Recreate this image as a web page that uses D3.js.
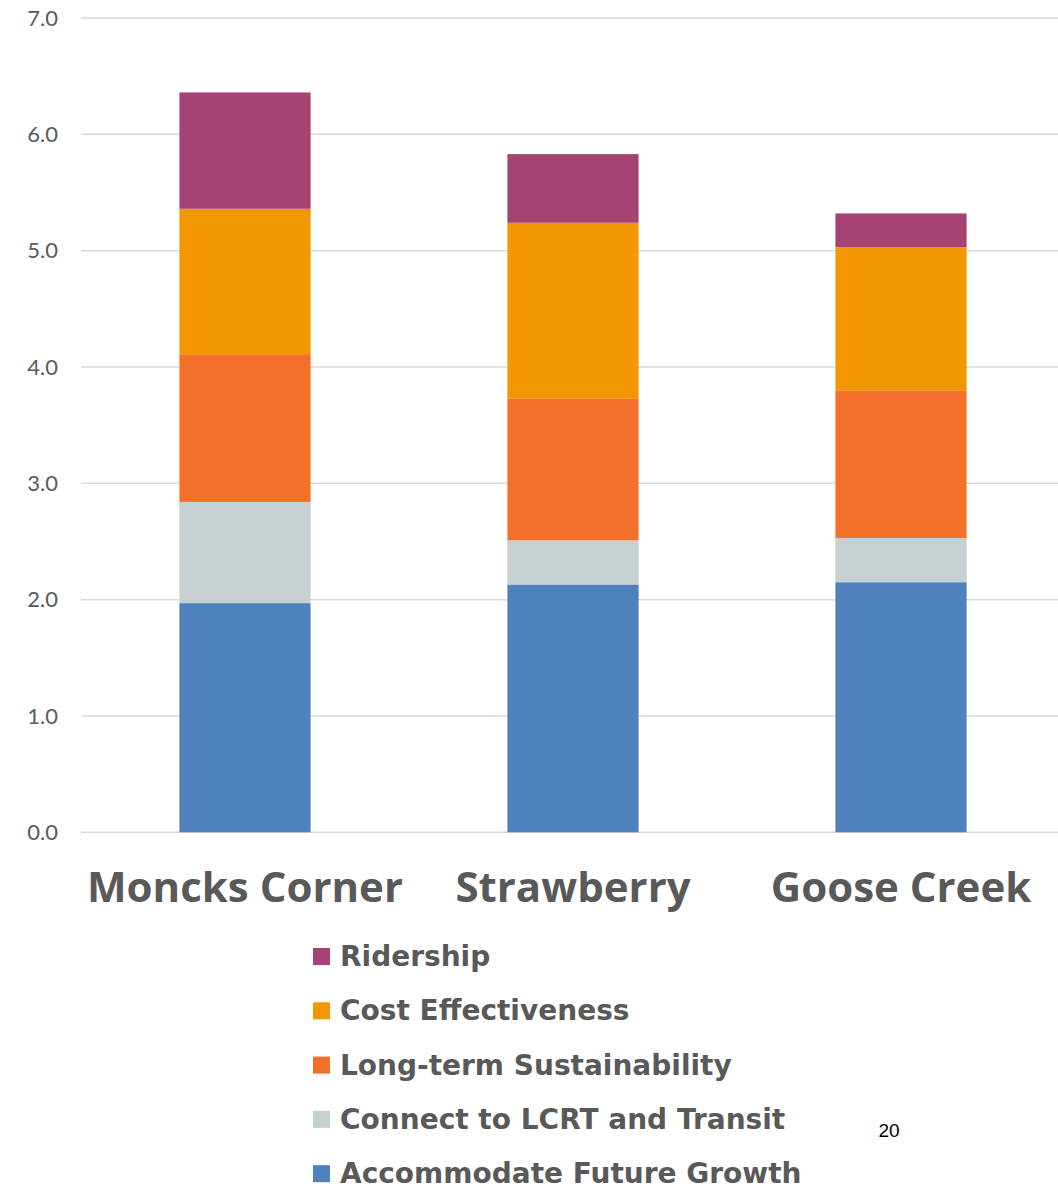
<!DOCTYPE html>
<html>
<head>
<meta charset="utf-8">
<script src="https://cdn.jsdelivr.net/npm/d3@7"></script>
<style>
  html, body { margin: 0; padding: 0; background: #ffffff; }
  svg { display: block; }
</style>
</head>
<body>
<script>
// Scoring of the three candidate sites, stacked by criterion
const sites = ["Moncks Corner", "Strawberry", "Goose Creek"];
const criteria = [
  "Accommodate Future Growth",
  "Connect to LCRT and Transit",
  "Long-term Sustainability",
  "Cost Effectiveness",
  "Ridership"
];
const accommodateGrowth = [1.97, 2.13, 2.15];
const connectTransit    = [0.87, 0.38, 0.38];
const longTermSustain   = [1.27, 1.22, 1.27];
const costEffectiveness = [1.25, 1.51, 1.23];
const ridership         = [1.00, 0.59, 0.29];
const yTicks = [0, 1, 2, 3, 4, 5, 6, 7];
const colors = ["#4F81BD", "#C5D0D2", "#F2702A", "#F29700", "#A54474"];
const pageNumber = "20";

const W = 1058, H = 1186;
const svg = d3.select("body").append("svg").attr("width", W).attr("height", H);

const rows = sites.map((s, i) => {
  const r = { site: s };
  [accommodateGrowth, connectTransit, longTermSustain, costEffectiveness, ridership]
    .forEach((arr, k) => { r[criteria[k]] = arr[i]; });
  return r;
});
const stacked = d3.stack().keys(criteria)(rows);

const x = d3.scaleBand().domain(sites).range([81, 1065]).paddingInner(0.6).paddingOuter(0.3);
const y = d3.scaleLinear().domain([0, 7]).range([832.3, 18]);

// gridlines
svg.append("g").selectAll("line").data(yTicks).join("line")
  .attr("x1", 81).attr("x2", W)
  .attr("y1", d => y(d)).attr("y2", d => y(d))
  .attr("stroke", "#d9d9d9").attr("stroke-width", 1.5);

// y-axis labels
const yAxis = svg.append("g").attr("transform", "translate(58,0)")
  .call(d3.axisLeft(y).tickValues(yTicks).tickFormat(d3.format(".1f")).tickSize(0).tickPadding(0));
yAxis.select(".domain").remove();
yAxis.selectAll("text")
  .attr("fill", "#595959")
  .style("font-family", "Lato, 'Open Sans', sans-serif")
  .style("font-size", "22px");

// stacked bars
svg.append("g").selectAll("g").data(stacked).join("g")
  .attr("fill", (d, i) => colors[i])
  .selectAll("rect").data(d => d).join("rect")
  .attr("x", d => x(d.data.site))
  .attr("width", x.bandwidth())
  .attr("y", d => y(d[1]))
  .attr("height", d => y(d[0]) - y(d[1]));

// category labels
svg.append("g").selectAll("text").data(sites).join("text")
  .attr("x", d => x(d) + x.bandwidth() / 2)
  .attr("y", 902)
  .attr("text-anchor", "middle")
  .attr("fill", "#595959")
  .style("font-family", "'Open Sans', sans-serif")
  .style("font-weight", "bold")
  .style("font-size", "42px")
  .text(d => d);

// legend, top entry is the top of the stack
const legendItems = criteria.slice().reverse();
const legendColors = colors.slice().reverse();
const lg = svg.append("g").attr("transform", "translate(313,948)");
const item = lg.selectAll("g").data(legendItems).join("g")
  .attr("transform", (d, i) => `translate(0,${i * 54.3})`);
item.append("rect").attr("width", 17).attr("height", 17)
  .attr("fill", (d, i) => legendColors[i]);
item.append("text")
  .attr("x", 27).attr("y", 18)
  .attr("fill", "#595959")
  .style("font-family", "'DejaVu Sans', sans-serif")
  .style("font-weight", "bold")
  .style("font-size", "28px")
  .text(d => d);

// page number
svg.append("text")
  .attr("x", 889).attr("y", 1137)
  .attr("text-anchor", "middle")
  .attr("fill", "#000")
  .style("font-family", "'Liberation Sans', Arial, sans-serif")
  .style("font-size", "19px")
  .text(pageNumber);
</script>
</body>
</html>
